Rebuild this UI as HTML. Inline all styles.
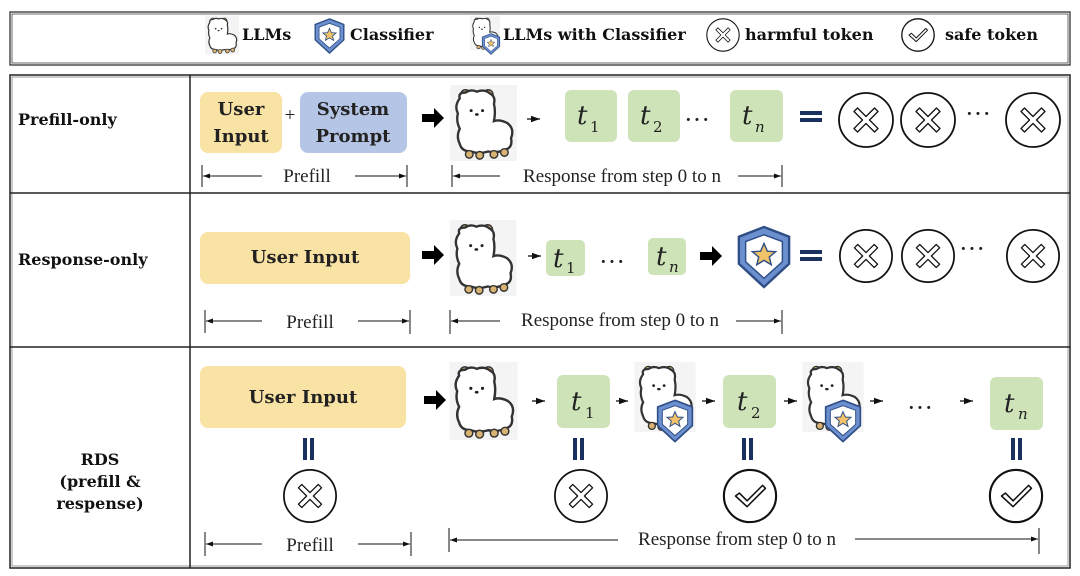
<!DOCTYPE html>
<html><head><meta charset="utf-8"><style>
html,body{margin:0;padding:0;background:#fff;width:1080px;height:576px;overflow:hidden}
text{font-family:"Liberation Serif",serif}
.b{font-family:"DejaVu Serif","Liberation Serif",serif;font-weight:bold;font-size:16px;fill:#111}
.ui{font-family:"DejaVu Serif","Liberation Serif",serif;font-weight:bold;font-size:18px;fill:#222}
.dim{font-size:19px;fill:#222}
.dots{font-size:26px;fill:#222}
.t{font-family:"DejaVu Serif","Liberation Serif",serif;font-style:italic;font-size:26px;fill:#222}
.ts{font-family:"DejaVu Serif","Liberation Serif",serif;font-size:15px;fill:#222}
</style></head><body>
<svg width="1080" height="576" viewBox="0 0 1080 576" xmlns="http://www.w3.org/2000/svg">
<defs>
<marker id="ah" markerWidth="8" markerHeight="8" refX="7" refY="4" orient="auto"><path d="M0,1.5 L7,4 L0,6.5z" fill="#111"/></marker>
<symbol id="llama" viewBox="0 0 70 80">
<rect x="0" y="0" width="70" height="80" fill="#f4f4f4"/>
<circle cx="16" cy="10" r="5" fill="#d8b372" stroke="#333" stroke-width="1.5"/>
<circle cx="40" cy="10" r="5" fill="#d8b372" stroke="#333" stroke-width="1.5"/>
<path d="M10,14 Q8,8 16,8 Q22,4 28,7 Q36,4 42,9 Q48,12 46,20 Q48,28 46,38 Q52,36 60,40 Q68,46 64,56 Q66,66 58,68 Q50,72 40,70 Q30,73 22,70 Q12,70 10,62 Q6,54 10,46 Q6,38 8,30 Q4,22 10,14z" fill="#fff" stroke="#333" stroke-width="2.5"/>
<circle cx="22" cy="27" r="1.6" fill="#222"/><circle cx="34" cy="27" r="1.6" fill="#222"/>
<ellipse cx="28" cy="31" rx="2" ry="1.4" fill="#222"/>
<ellipse cx="20" cy="73" rx="4" ry="4" fill="#d8b372" stroke="#333" stroke-width="1.5"/>
<ellipse cx="31" cy="74" rx="4" ry="4" fill="#d8b372" stroke="#333" stroke-width="1.5"/>
<ellipse cx="46" cy="73" rx="4" ry="4" fill="#d8b372" stroke="#333" stroke-width="1.5"/>
<ellipse cx="57" cy="71" rx="4" ry="4" fill="#d8b372" stroke="#333" stroke-width="1.5"/>
</symbol>
<symbol id="shield" viewBox="0 0 60 66">
<path d="M30,2 L56,12 L56,40 L30,64 L4,40 L4,12z" fill="#6b8fcf" stroke="#2f4f86" stroke-width="2.5"/>
<path d="M30,10 L49,17 L49,38 L30,55 L11,38 L11,17z" fill="#fff" stroke="#2f4f86" stroke-width="1.5"/>
<path d="M30,19 L33.5,27 L42,27.5 L35.5,33 L37.5,41 L30,36.5 L22.5,41 L24.5,33 L18,27.5 L26.5,27z" fill="#f1c267" stroke="#2f4f86" stroke-width="1.5"/>
</symbol>
<symbol id="x" viewBox="0 0 60 60">
<circle cx="30" cy="30" r="27" fill="#fff" stroke="#111" stroke-width="1.8"/>
<path d="M18,21.5 L21.5,18 L30,26.5 L38.5,18 L42,21.5 L33.5,30 L42,38.5 L38.5,42 L30,33.5 L21.5,42 L18,38.5 L26.5,30z" fill="none" stroke="#111" stroke-width="1.3" stroke-linejoin="round"/>
</symbol>
<symbol id="ck" viewBox="0 0 60 60">
<circle cx="30" cy="30" r="27" fill="#fff" stroke="#111" stroke-width="2.2"/>
<path d="M15,30 L19,27 L27,35 L43,19 L46,22 L27,41z" fill="none" stroke="#111" stroke-width="1.6" stroke-linejoin="round"/>
</symbol>
</defs>

<!-- legend -->
<rect x="10" y="12" width="1060" height="53" fill="none" stroke="#222" stroke-width="1.2"/>
<rect x="12" y="14" width="1056" height="49" fill="none" stroke="#444" stroke-width="0.8"/>
<use href="#llama" x="205" y="15" width="34" height="40"/>
<text x="242" y="40" class="b">LLMs</text>
<use href="#shield" x="313" y="15" width="33" height="42"/>
<text x="350" y="40" class="b">Classifier</text>
<use href="#llama" x="470" y="14" width="30" height="38"/>
<use href="#shield" x="481" y="32" width="20" height="24"/>
<text x="503" y="40" class="b">LLMs with Classifier</text>
<use href="#x" x="705" y="17" width="36" height="36"/>
<text x="745" y="40" class="b">harmful token</text>
<use href="#ck" x="900" y="17" width="36" height="36"/>
<text x="945" y="40" class="b">safe token</text>

<!-- main frame -->
<rect x="10" y="75" width="1060" height="493" fill="none" stroke="#222" stroke-width="1.5"/>
<rect x="12" y="77" width="1056" height="489" fill="none" stroke="#555" stroke-width="0.6"/>
<line x1="10" y1="193" x2="1070" y2="193" stroke="#222" stroke-width="1.5"/>
<line x1="10" y1="347" x2="1070" y2="347" stroke="#222" stroke-width="1.5"/>
<line x1="190" y1="75" x2="190" y2="568" stroke="#222" stroke-width="1.5"/>

<text x="18" y="125" class="b">Prefill-only</text>
<text x="18" y="265" class="b">Response-only</text>
<text x="100" y="465" class="b" text-anchor="middle">RDS</text>
<text x="100" y="487" class="b" text-anchor="middle">(prefill &amp;</text>
<text x="100" y="509" class="b" text-anchor="middle">respense)</text>

<!-- row 1 -->
<rect x="200" y="92" width="82" height="61" rx="8" fill="#f8e2a4"/>
<text x="241" y="115" class="ui" text-anchor="middle">User</text>
<text x="241" y="142" class="ui" text-anchor="middle">Input</text>
<text x="290" y="121" class="dim" text-anchor="middle">+</text>
<rect x="300" y="92" width="107" height="61" rx="8" fill="#b5c5e5"/>
<text x="353" y="115" class="ui" text-anchor="middle">System</text>
<text x="353" y="142" class="ui" text-anchor="middle">Prompt</text>
<path d="M422,114 h12 v-6 l10,10 l-10,10 v-6 h-12z" fill="#000"/>
<use href="#llama" x="447" y="85" width="73" height="76"/>
<line x1="527" y1="119" x2="540" y2="119" stroke="#111" stroke-width="1.3" marker-end="url(#ah)"/>
<rect x="565" y="90" width="52" height="52" rx="6" fill="#cfe3b8"/>
<text x="577" y="124" class="t">t</text><text x="590" y="132" class="ts">1</text>
<rect x="628" y="90" width="52" height="52" rx="6" fill="#cfe3b8"/>
<text x="640" y="124" class="t">t</text><text x="653" y="132" class="ts">2</text>
<text x="697" y="128" class="dots" text-anchor="middle">···</text>
<rect x="730" y="90" width="53" height="52" rx="6" fill="#cfe3b8"/>
<text x="742" y="124" class="t">t</text><text x="755" y="132" class="ts" font-style="italic">n</text>
<rect x="800" y="111" width="22" height="4" fill="#1a3160"/><rect x="800" y="118" width="22" height="4" fill="#1a3160"/>
<use href="#x" x="836" y="90" width="60" height="60"/>
<use href="#x" x="898" y="90" width="60" height="60"/>
<text x="978" y="122" class="dots" text-anchor="middle">···</text>
<use href="#x" x="1003" y="90" width="60" height="60"/>
<!-- dims row1 -->
<line x1="202" y1="165" x2="202" y2="187" stroke="#111"/>
<line x1="262" y1="176" x2="203" y2="176" stroke="#111" marker-end="url(#ah)"/>
<text x="307" y="182" class="dim" text-anchor="middle">Prefill</text>
<line x1="355" y1="176" x2="406" y2="176" stroke="#111" marker-end="url(#ah)"/>
<line x1="407" y1="165" x2="407" y2="187" stroke="#111"/>
<line x1="452" y1="165" x2="452" y2="187" stroke="#111"/>
<line x1="500" y1="176" x2="453" y2="176" stroke="#111" marker-end="url(#ah)"/>
<text x="622" y="182" class="dim" text-anchor="middle">Response from step 0 to n</text>
<line x1="738" y1="176" x2="781" y2="176" stroke="#111" marker-end="url(#ah)"/>
<line x1="782" y1="165" x2="782" y2="187" stroke="#111"/>

<!-- row 2 -->
<rect x="200" y="232" width="210" height="52" rx="8" fill="#f8e2a4"/>
<text x="305" y="263" class="ui" text-anchor="middle">User Input</text>
<path d="M422,251 h12 v-6 l10,10 l-10,10 v-6 h-12z" fill="#000"/>
<use href="#llama" x="446" y="220" width="74" height="76"/>
<line x1="528" y1="256" x2="541" y2="256" stroke="#111" stroke-width="1.3" marker-end="url(#ah)"/>
<rect x="546" y="240" width="39" height="36" rx="5" fill="#cfe3b8"/>
<text x="553" y="267" class="t">t</text><text x="566" y="273" class="ts">1</text>
<text x="612" y="270" class="dots" text-anchor="middle">···</text>
<rect x="648" y="238" width="38" height="37" rx="5" fill="#cfe3b8"/>
<text x="656" y="265" class="t">t</text><text x="669" y="272" class="ts" font-style="italic">n</text>
<path d="M700,252 h12 v-6 l10,10 l-10,10 v-6 h-12z" fill="#000"/>
<use href="#shield" x="735" y="224" width="58" height="66"/>
<rect x="800" y="250" width="22" height="4" fill="#1a3160"/><rect x="800" y="257" width="22" height="4" fill="#1a3160"/>
<use href="#x" x="837" y="227" width="58" height="58"/>
<use href="#x" x="899" y="227" width="58" height="58"/>
<text x="972" y="257" class="dots" text-anchor="middle">···</text>
<use href="#x" x="1004" y="227" width="58" height="58"/>
<line x1="205" y1="310" x2="205" y2="333" stroke="#111"/>
<line x1="262" y1="321" x2="206" y2="321" stroke="#111" marker-end="url(#ah)"/>
<text x="310" y="328" class="dim" text-anchor="middle">Prefill</text>
<line x1="358" y1="321" x2="409" y2="321" stroke="#111" marker-end="url(#ah)"/>
<line x1="410" y1="310" x2="410" y2="334" stroke="#111"/>
<line x1="450" y1="310" x2="450" y2="334" stroke="#111"/>
<line x1="500" y1="321" x2="451" y2="321" stroke="#111" marker-end="url(#ah)"/>
<text x="620" y="326" class="dim" text-anchor="middle">Response from step 0 to n</text>
<line x1="736" y1="321" x2="781" y2="321" stroke="#111" marker-end="url(#ah)"/>
<line x1="782" y1="310" x2="782" y2="334" stroke="#111"/>

<!-- row 3 -->
<rect x="200" y="366" width="206" height="62" rx="8" fill="#f8e2a4"/>
<text x="303" y="403" class="ui" text-anchor="middle">User Input</text>
<path d="M424,396 h12 v-6 l10,10 l-10,10 v-6 h-12z" fill="#000"/>
<use href="#llama" x="447" y="362" width="73" height="78"/>
<line x1="532" y1="401" x2="545" y2="401" stroke="#111" stroke-width="1.3" marker-end="url(#ah)"/>
<rect x="557" y="375" width="53" height="53" rx="6" fill="#cfe3b8"/>
<text x="571" y="410" class="t">t</text><text x="585" y="418" class="ts">1</text>
<line x1="616" y1="401" x2="628" y2="401" stroke="#111" stroke-width="1.3" marker-end="url(#ah)"/>
<use href="#llama" x="632" y="362" width="66" height="70"/>
<use href="#shield" x="655" y="398" width="40" height="46"/>
<line x1="702" y1="401" x2="715" y2="401" stroke="#111" stroke-width="1.3" marker-end="url(#ah)"/>
<rect x="723" y="375" width="53" height="53" rx="6" fill="#cfe3b8"/>
<text x="737" y="410" class="t">t</text><text x="751" y="418" class="ts">2</text>
<line x1="784" y1="401" x2="797" y2="401" stroke="#111" stroke-width="1.3" marker-end="url(#ah)"/>
<use href="#llama" x="800" y="362" width="66" height="70"/>
<use href="#shield" x="823" y="398" width="40" height="46"/>
<line x1="870" y1="401" x2="883" y2="401" stroke="#111" stroke-width="1.3" marker-end="url(#ah)"/>
<text x="920" y="416" class="dots" text-anchor="middle">···</text>
<line x1="960" y1="401" x2="973" y2="401" stroke="#111" stroke-width="1.3" marker-end="url(#ah)"/>
<rect x="990" y="377" width="53" height="53" rx="6" fill="#cfe3b8"/>
<text x="1004" y="412" class="t">t</text><text x="1018" y="419" class="ts" font-style="italic">n</text>
<g fill="#1a3160">
<rect x="303" y="438" width="4" height="22"/><rect x="310" y="438" width="4" height="22"/>
<rect x="573" y="438" width="4" height="22"/><rect x="580" y="438" width="4" height="22"/>
<rect x="742" y="438" width="4" height="22"/><rect x="749" y="438" width="4" height="22"/>
<rect x="1011" y="438" width="4" height="22"/><rect x="1018" y="438" width="4" height="22"/>
</g>
<use href="#x" x="281" y="467" width="58" height="58"/>
<use href="#x" x="552" y="467" width="58" height="58"/>
<use href="#ck" x="721" y="467" width="58" height="58"/>
<use href="#ck" x="987" y="467" width="58" height="58"/>
<line x1="205" y1="532" x2="205" y2="556" stroke="#111"/>
<line x1="262" y1="544" x2="206" y2="544" stroke="#111" marker-end="url(#ah)"/>
<text x="310" y="551" class="dim" text-anchor="middle">Prefill</text>
<line x1="358" y1="544" x2="410" y2="544" stroke="#111" marker-end="url(#ah)"/>
<line x1="411" y1="532" x2="411" y2="556" stroke="#111"/>
<line x1="449" y1="528" x2="449" y2="552" stroke="#111"/>
<line x1="618" y1="540" x2="450" y2="540" stroke="#111" marker-end="url(#ah)"/>
<text x="737" y="545" class="dim" text-anchor="middle">Response from step 0 to n</text>
<line x1="855" y1="539" x2="1038" y2="539" stroke="#111" marker-end="url(#ah)"/>
<line x1="1039" y1="528" x2="1039" y2="554" stroke="#111"/>
</svg>
</body></html>
